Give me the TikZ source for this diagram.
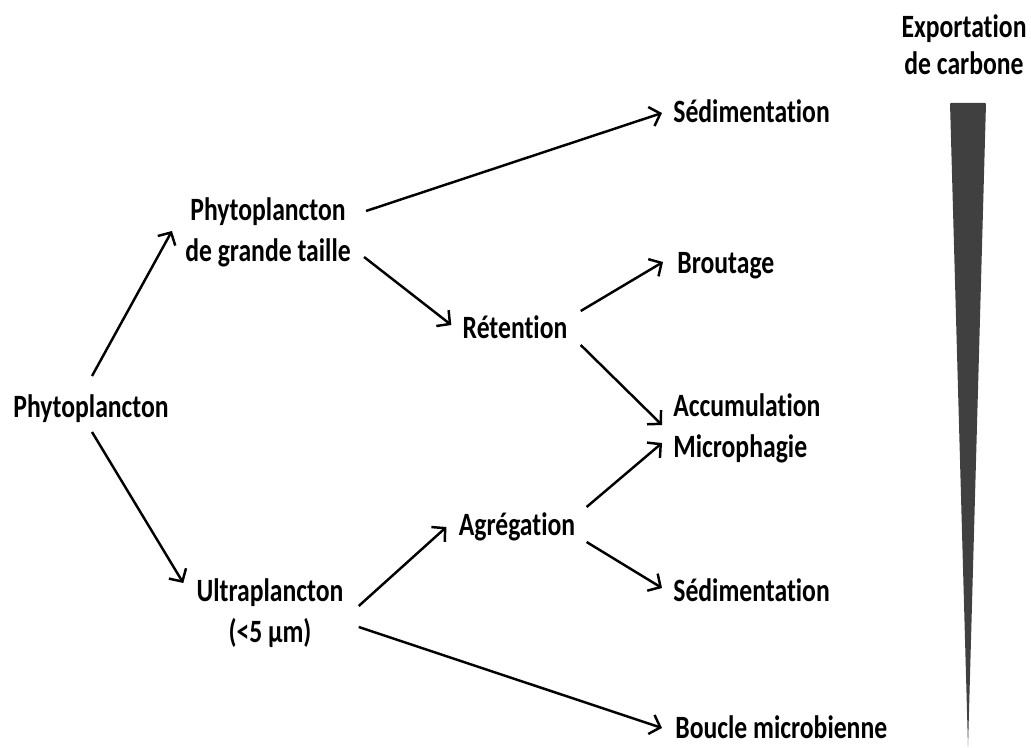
\documentclass[tikz,border=0pt]{standalone}
\usepackage{fontspec}
\setmainfont{Carlito}[FakeStretch=0.79, Ligatures=NoCommon]
\usepackage{tikz}
\usetikzlibrary{arrows.meta, positioning, calc}
\definecolor{exportgray}{RGB}{64, 64, 64}

\begin{document}
\begin{tikzpicture}[
  lbl/.style={font=\fontsize{18.5}{23.3}\selectfont\bfseries, align=center, inner sep=0pt, anchor=base},
  outlbl/.style={lbl, anchor=base west, align=left},
  flux/.style={line width=1.4pt, -{Straight Barb[length=1.9mm, width=4mm, line width=1.4pt]}}
]
\useasboundingbox (0,0) rectangle (20.62,14.94);

% Source and size classes (multi-line nodes sit on their last line)
\node[lbl] (phyto) at (1.82,6.60) {Phytoplancton};
\node[lbl] (grande) at (5.36,9.72) {Phytoplancton\\de grande taille};
\node[lbl] (ultra) at (5.40,2.10) {Ultraplancton\\(<5 µm)};

% Intermediate processes
\node[lbl] (retention) at (10.30,8.18) {Rétention};
\node[lbl] (agregation) at (10.34,4.24) {Agrégation};

% Fates
\node[outlbl] (sedhaut) at (13.46,12.50) {Sédimentation};
\node[outlbl] (broutage) at (13.54,9.48) {Broutage};
\node[outlbl] (accu) at (13.46,5.80) {Accumulation\\Microphagie};
\node[outlbl] (sedbas) at (13.46,2.92) {Sédimentation};
\node[outlbl] (boucle) at (13.50,0.18) {Boucle microbienne};

% Arrows
\draw[flux] ([shift={(0.02,0.82)}]phyto.base) -- ([shift={(-0.26,0.60)}]grande.base west);
\draw[flux] ([shift={(0.02,-0.30)}]phyto.base) -- ([shift={(-0.26,1.18)}]ultra.base west);
\draw[flux] ([shift={(0.30,1.00)}]grande.base east) -- ([shift={(-0.22,0.18)}]sedhaut.base west);
\draw[flux] ([shift={(0.26,0.08)}]grande.base east) -- ([shift={(-0.22,0.26)}]retention.base west);
\draw[flux] ([shift={(0.26,0.54)}]retention.base east) -- ([shift={(-0.28,0.22)}]broutage.base west);
\draw[flux] ([shift={(0.26,-0.14)}]retention.base east) -- ([shift={(-0.22,0.64)}]accu.base west);
\draw[flux] ([shift={(0.22,0.56)}]agregation.base east) -- ([shift={(-0.22,0.28)}]accu.base west);
\draw[flux] ([shift={(0.22,-0.14)}]agregation.base east) -- ([shift={(-0.22,0.26)}]sedbas.base west);
\draw[flux] ([shift={(0.30,0.72)}]ultra.base east) -- ([shift={(-0.24,0.16)}]agregation.base west);
\draw[flux] ([shift={(0.30,0.30)}]ultra.base east) -- ([shift={(-0.26,0.20)}]boucle.base west);

% Carbon export wedge
\node[lbl, font=\fontsize{18.5}{21.6}\selectfont\bfseries] (export) at (19.28,13.44) {Exportation\\de carbone};
\fill[exportgray, rounded corners=0.5pt] (19.0,12.88) -- (19.72,12.88) -- (19.36,0) -- cycle;
\end{tikzpicture}
\end{document}
